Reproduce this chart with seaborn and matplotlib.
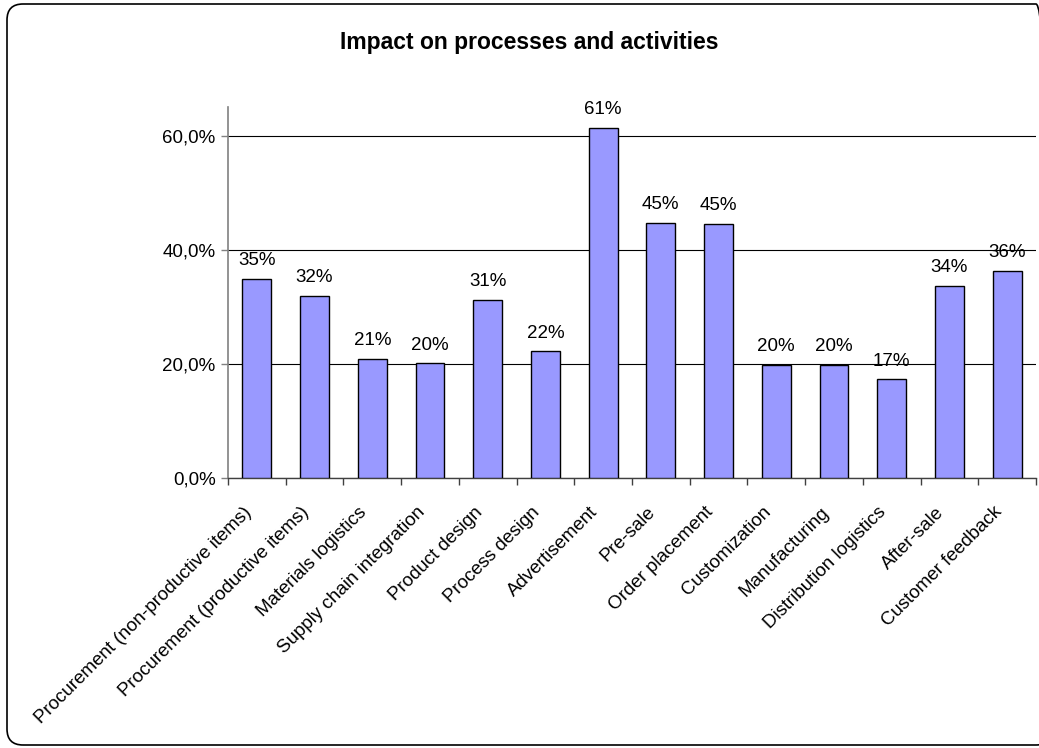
import matplotlib
matplotlib.use("Agg")
import matplotlib.pyplot as plt
import seaborn as sns
import numpy as np
from matplotlib.patches import FancyBboxPatch
from matplotlib.transforms import IdentityTransform, ScaledTranslation
from matplotlib.ticker import FuncFormatter, FixedLocator

categories = [
    "Procurement (non-productive items)",
    "Procurement (productive items)",
    "Materials logistics",
    "Supply chain integration",
    "Product design",
    "Process design",
    "Advertisement",
    "Pre-sale",
    "Order placement",
    "Customization",
    "Manufacturing",
    "Distribution logistics",
    "After-sale",
    "Customer feedback",
]
values = [0.350, 0.319, 0.209, 0.201, 0.312, 0.222, 0.614, 0.448, 0.446,
          0.199, 0.199, 0.173, 0.337, 0.363]
yticks = [0.0, 0.2, 0.4, 0.6]
title = "Impact on processes and activities"

sns.set_theme(style="white")
plt.rcParams["font.family"] = ["Liberation Sans", "DejaVu Sans"]

FS = 13.5

fig = plt.figure(figsize=(10.39, 7.48), dpi=100)
ax = fig.add_axes([228/1039, 1-478/748, (1036-228)/1039, (478-107)/748])

sns.barplot(x=categories, y=values, color="#9999FF", saturation=1,
            edgecolor="black", linewidth=1.0, width=0.5, ax=ax, zorder=3)

ax.set_ylim(0, 0.651)
ax.set_xlim(-0.5, len(categories) - 0.5)
ax.set_yticks(yticks)
ax.yaxis.set_major_formatter(FuncFormatter(lambda v, p: f"{v*100:.1f}%".replace(".", ",")))
ax.grid(axis="y", color="black", linewidth=0.8, zorder=0)
ax.grid(axis="x", visible=False)
ax.set_axisbelow(True)

for s in ["top", "right"]:
    ax.spines[s].set_visible(False)
ax.spines["left"].set_color("#808080")
ax.spines["left"].set_linewidth(1.2)
ax.spines["bottom"].set_color("#404040")
ax.spines["bottom"].set_linewidth(1.0)

ax.tick_params(axis="y", which="major", direction="out", length=5, width=1,
               color="#808080", labelsize=FS, pad=4, left=True, labelcolor="black")
ax.tick_params(axis="x", which="major", length=0, labelsize=FS, pad=12, labelcolor="black")
ax.xaxis.set_minor_locator(FixedLocator(np.arange(-0.5, len(categories), 1.0)))
ax.tick_params(axis="x", which="minor", direction="out", length=5, width=1,
               color="#404040", bottom=True)

ax.set_xticks(range(len(categories)))
ax.set_xticklabels(categories, rotation=45, ha="right", rotation_mode="anchor")
offset = ScaledTranslation(-14/100, -9/100, fig.dpi_scale_trans)
for lab in ax.get_xticklabels():
    lab.set_transform(lab.get_transform() + offset)
ax.set_xlabel("")
ax.set_ylabel("")

for cont in ax.containers:
    ax.bar_label(cont, labels=[f"{v*100:.0f}%" for v in values], padding=7,
                 fontsize=FS, color="black")

fig.text(529/1039, 1-43/748, title, ha="center", va="center",
         fontsize=16.5, fontweight="bold", color="black")

border = FancyBboxPatch((7, 3), 1045, 741, boxstyle="round,pad=0,rounding_size=16",
                        transform=IdentityTransform(), facecolor="none",
                        edgecolor="black", linewidth=1.2)
fig.add_artist(border)

fig.savefig("out.png", dpi=100)
